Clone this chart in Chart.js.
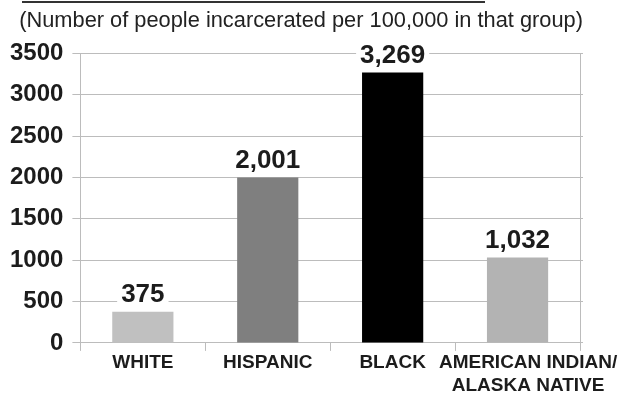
<!DOCTYPE html>
<html><head><meta charset="utf-8">
<script src="https://cdn.jsdelivr.net/npm/chart.js@4/dist/chart.umd.min.js"></script>
<style>html,body{margin:0;padding:0;background:#fff}canvas{display:block}</style>
</head><body><canvas id="c" width="632" height="396"></canvas>
<script>
const categories = ['WHITE', 'HISPANIC', 'BLACK', ['AMERICAN INDIAN/', 'ALASKA NATIVE']];
const rates = [375, 2001, 3269, 1032];
const rateLabels = ['375', '2,001', '3,269', '1,032'];
const barColors = ['#c0c0c0', '#7f7f7f', '#000000', '#b3b3b3'];
const subtitle = '(Number of people incarcerated per 100,000 in that group)';
const yMin = 0, yMax = 3500, yStep = 500;

const FONT = "'Liberation Sans', Arial, sans-serif";
const GRID = '#bcbcbc';
const INK = '#1c1c1c';

const valueLabels = {
  id: 'valueLabels',
  afterDatasetsDraw(chart) {
    const ctx = chart.ctx;
    const meta = chart.getDatasetMeta(0);
    ctx.save();
    ctx.font = 'bold 26px ' + FONT;
    ctx.textAlign = 'center';
    ctx.textBaseline = 'middle';
    meta.data.forEach((bar, i) => {
      const t = rateLabels[i];
      const w = ctx.measureText(t).width;
      const cy = bar.y - 18;
      ctx.fillStyle = '#ffffff';
      ctx.fillRect(bar.x - w / 2 - 4, cy - 12, w + 8, 24);
      ctx.fillStyle = INK;
      ctx.fillText(t, bar.x, cy + 1);
    });
    ctx.restore();
  }
};

const topRule = {
  id: 'topRule',
  afterDraw(chart) {
    const ctx = chart.ctx;
    ctx.save();
    ctx.strokeStyle = '#333333';
    ctx.lineWidth = 2;
    ctx.beginPath();
    ctx.moveTo(22, 2);
    ctx.lineTo(485, 2);
    ctx.stroke();
    ctx.restore();
  }
};

new Chart(document.getElementById('c'), {
  type: 'bar',
  data: {
    labels: categories,
    datasets: [{
      data: rates,
      backgroundColor: barColors,
      borderWidth: 0,
      barPercentage: 0.49,
      categoryPercentage: 1.0
    }]
  },
  options: {
    responsive: false,
    animation: false,
    layout: { padding: { left: 1, right: 49, top: 0, bottom: -2 } },
    plugins: {
      legend: { display: false },
      tooltip: { enabled: false },
      title: {
        display: true,
        text: '   ' + subtitle,
        color: '#222222',
        font: { family: FONT, size: 22, weight: 'normal', lineHeight: 1.2 },
        padding: { top: 8, bottom: 19 }
      }
    },
    scales: {
      x: {
        grid: { offset: true, drawOnChartArea: false, tickLength: 8, color: GRID },
        border: { display: true, color: GRID },
        ticks: {
          color: INK,
          maxRotation: 0,
          autoSkip: false,
          padding: 0,
          font: { family: FONT, size: 19, weight: 'bold', lineHeight: 1.24 },
          callback: function (v, i) {
            const lab = this.getLabelForValue(v);
            return i === categories.length - 1 && Array.isArray(categories[i])
              ? categories[i].map(s => '    ' + s)
              : lab;
          }
        }
      },
      y: {
        min: yMin, max: yMax,
        ticks: {
          stepSize: yStep,
          color: INK,
          padding: 9,
          font: { family: FONT, size: 24, weight: 'bold' },
          callback: v => String(v)
        },
        grid: { color: GRID, tickLength: 8 },
        border: { display: true, color: GRID }
      },
      yR: {
        position: 'right',
        min: yMin, max: yMax,
        ticks: { display: false, stepSize: yStep },
        grid: { drawOnChartArea: false, tickLength: 3, color: GRID },
        border: { display: true, color: GRID }
      }
    }
  },
  plugins: [valueLabels, topRule]
});
</script>
</body></html>
